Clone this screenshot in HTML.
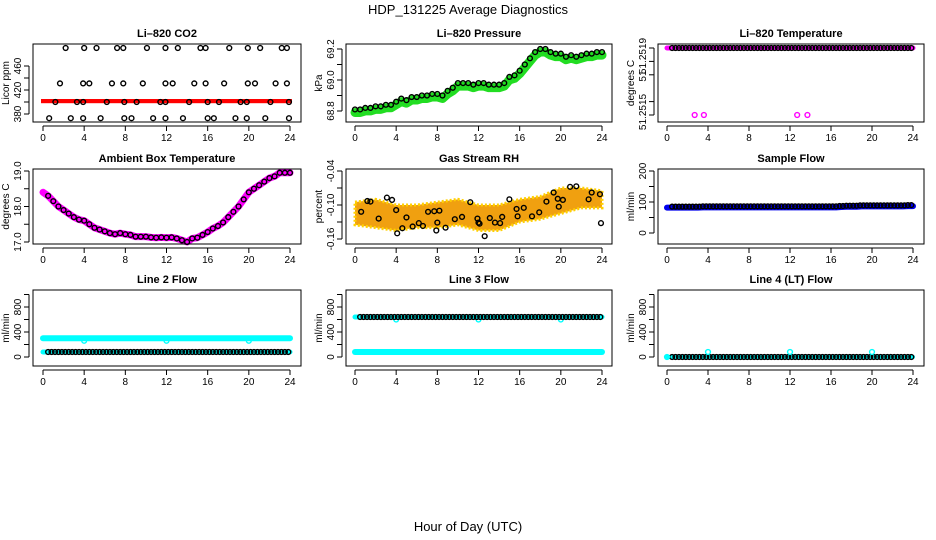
<!DOCTYPE html>
<html><head><meta charset="utf-8"><style>
body{margin:0;background:#fff}
svg{display:block;font-family:"Liberation Sans",Arial,sans-serif}
.tt{font-size:11px;font-weight:bold}
.tk{font-size:10px}
</style></head><body>
<svg id="c" width="936" height="540" viewBox="0 0 936 540" xmlns="http://www.w3.org/2000/svg">
<text x="468" y="14" text-anchor="middle" font-size="13">HDP_131225  Average Diagnostics</text>
<text x="468" y="531" text-anchor="middle" font-size="13">Hour of Day (UTC)</text>
</svg>
<script>
// ---- data ----
const xTicks=[0,4,8,12,16,20,24];
const co2Hours=[2.2,4.0,5.2,7.2,7.8,10.1,11.9,13.1,15.3,15.8,18.1,19.9,21.1,23.2,23.7, 1.65,3.9,4.5,6.7,7.8,9.7,11.9,12.6,14.7,15.8,17.6,19.9,20.6,22.6,23.7, 1.2,3.3,3.9,6.2,7.9,9.1,11.4,11.9,14.2,16,17.1,19.2,19.8,22.1,23.9, 0.6,2.7,3.9,5.6,7.9,8.6,10.7,11.9,13.6,16,16.6,18.7,19.8,21.6,23.9];
const co2Values=[490,490,490,490,490,490,490,490,490,490,490,490,490,490,490, 431,431,431,431,431,431,431,431,431,431,431,431,431,431,431, 400,400,400,400,400,400,400,400,400,400,400,400,400,400,400, 373,373,373,373,373,373,373,373,373,373,373,373,373,373,373];
const co2Band=[398,405];
const halfHours=[0,0.5,1,1.5,2,2.5,3,3.5,4,4.5,5,5.5,6,6.5,7,7.5,8,8.5,9,9.5,10,10.5,11,11.5,12,12.5,13,13.5,14,14.5,15,15.5,16,16.5,17,17.5,18,18.5,19,19.5,20,20.5,21,21.5,22,22.5,23,23.5,24];
const pressure=[68.81,68.81,68.82,68.82,68.83,68.83,68.84,68.84,68.86,68.88,68.87,68.89,68.89,68.90,68.90,68.91,68.91,68.90,68.93,68.95,68.98,68.98,68.98,68.97,68.98,68.98,68.97,68.97,68.97,68.98,69.02,69.03,69.06,69.10,69.14,69.18,69.20,69.20,69.18,69.17,69.17,69.15,69.16,69.15,69.16,69.17,69.17,69.18,69.18];
const ambient=[18.4,18.3,18.15,18.0,17.9,17.8,17.7,17.63,17.6,17.5,17.4,17.35,17.3,17.25,17.22,17.25,17.22,17.2,17.15,17.15,17.15,17.13,17.12,17.13,17.12,17.13,17.1,17.05,17.0,17.1,17.12,17.2,17.28,17.38,17.45,17.55,17.7,17.85,18.0,18.2,18.4,18.5,18.6,18.7,18.8,18.85,18.95,18.95,18.95];
const rhBandHours=[0,2,4,6,8,10,12,14,16,18,20,22,24];
const rhLow=[-0.135,-0.14,-0.145,-0.14,-0.14,-0.135,-0.145,-0.145,-0.13,-0.125,-0.115,-0.105,-0.105];
const rhHigh=[-0.095,-0.09,-0.1,-0.1,-0.095,-0.09,-0.1,-0.1,-0.09,-0.085,-0.07,-0.07,-0.075];
const rhHours=[0.6,1.2,1.5,2.3,3.1,3.6,4.0,4.1,4.6,5.0,5.6,6.2,6.6,7.1,7.7,7.9,8.0,8.2,8.8,9.7,10.4,11.2,11.9,12.0,12.1,12.6,13.1,13.6,14.1,14.3,15.0,15.7,15.8,16.4,17.2,17.9,18.6,19.3,19.7,19.8,20.2,20.9,21.5,22.7,23.0,23.8,23.9];
const rhValues=[-0.112,-0.093,-0.094,-0.124,-0.087,-0.091,-0.109,-0.15,-0.141,-0.122,-0.138,-0.132,-0.137,-0.112,-0.111,-0.145,-0.131,-0.11,-0.14,-0.125,-0.121,-0.095,-0.124,-0.131,-0.133,-0.155,-0.123,-0.131,-0.132,-0.121,-0.09,-0.107,-0.12,-0.105,-0.12,-0.113,-0.094,-0.078,-0.089,-0.103,-0.091,-0.068,-0.067,-0.09,-0.078,-0.081,-0.132];
const tempOutHours=[2.7,3.6,12.7,13.7];
const tempTop=51.2519, tempLow=51.2515;
const sampleFlow=[85,85,85,85,85,85,85,86,86,86,86,86,86,86,86,86,86,86,86,86,86,86,86,86,86,86,86,86,86,86,86,86,86,86,87,88,88,88,89,89,89,89,89,89,89,89,89,90,90];
const line2Upper=300, line2Lower=80, line2Dips=[4,12,20];
const line3Upper=640, line3Lower=80, line3Dips=[4,12,20];
const line4Base=0, line4Spikes=[4,12,20], line4SpikeVal=80;

// ---- layout ----
const S=document.getElementById('c'),NS='http://www.w3.org/2000/svg';
const cols=[{l:33,r:301,x0:43,x1:290},{l:346,r:612,x0:355,x1:602},{l:658,r:924,x0:667,x1:913}];
const rows=[{t:44,b:122},{t:169,b:244},{t:290,b:366}];
function mk(tag,a,p){const e=document.createElementNS(NS,tag);for(const k in a)e.setAttribute(k,a[k]);(p||S).appendChild(e);return e;}
function panel(ci,ri,title,ylab,yv0,yp0,yv1,yp1,ticks,labels,name,labelPos){
  const c=cols[ci],r=rows[ri];
  const g=mk('g',{});
  
  
  const X=h=>c.x0+(c.x1-c.x0)*h/24;
  const Y=v=>yp0+(v-yv0)*(yp1-yp0)/(yv1-yv0);
  const t=mk('text',{x:(c.l+c.r)/2,y:r.t-7,'text-anchor':'middle',class:'tt'},g);t.textContent=title;
  
  
  const plot=mk('g',{},g);
  
  
  const box=mk('rect',{x:c.l,y:r.t,width:c.r-c.l,height:r.b-r.t,fill:'none',stroke:'#000','stroke-width':1},g);
  
  
  const xa=mk('g',{},g);
  
  
  mk('line',{x1:X(0),x2:X(24),y1:r.b+4,y2:r.b+4,stroke:'#000'},xa);
  xTicks.forEach(h=>{mk('line',{x1:X(h),x2:X(h),y1:r.b+4,y2:r.b+9,stroke:'#000'},xa);
    const l=mk('text',{x:X(h),y:r.b+19,'text-anchor':'middle',class:'tk'},xa);l.textContent=h;});
  const ya=mk('g',{},g);
  
  
  mk('line',{x1:c.l-4,x2:c.l-4,y1:Y(ticks[0]),y2:Y(ticks[ticks.length-1]),stroke:'#000'},ya);
  ticks.forEach((v,i)=>{mk('line',{x1:c.l-9,x2:c.l-4,y1:Y(v),y2:Y(v),stroke:'#000'},ya);
    if(labels[i]){const y=labelPos?labelPos[i]:Y(v);const l=mk('text',{x:c.l-12,y:y,'text-anchor':'middle',class:'tk',transform:`rotate(-90 ${c.l-12} ${y})`},ya);l.textContent=labels[i];}});
  const yl=mk('text',{x:c.l-24,y:(r.t+r.b)/2,'text-anchor':'middle',class:'tk',transform:`rotate(-90 ${c.l-24} ${(r.t+r.b)/2})`},g);yl.textContent=ylab;
  
  
  return {X,Y,plot,c,r};
}
function circ(p,x,y,col,nm,fill){const e=mk('circle',{cx:x,cy:y,r:2.4,fill:fill||'none',stroke:col,'stroke-width':1.4},p);
  
  return e;}
function band(p,xs,ys,col,w,nm){const e=mk('polyline',{points:xs.map((x,i)=>x+','+ys[i]).join(' '),fill:'none',stroke:col,'stroke-width':w,'stroke-linejoin':'round','stroke-linecap':'round'},p);
  
  return e;}
const thirds=[];for(let h=0.5;h<=23.95;h+=1/3)thirds.push(h);

// CO2
let P=panel(0,0,'Li–820 CO2','Licor ppm',380,114,460,66,[380,400,420,440,460],['380','','420','','460'],'co2');
{const e=mk('rect',{x:P.X(0)-2,y:P.Y(co2Band[1]),width:P.X(24)-P.X(0)+4,height:P.Y(co2Band[0])-P.Y(co2Band[1]),fill:'#ff0000'},P.plot);

}
co2Hours.forEach((h,i)=>circ(P.plot,P.X(h),P.Y(co2Values[i]),'#000','co2-point'));

// Pressure
P=panel(1,0,'Li–820 Pressure','kPa',68.8,111,69.2,49,[68.8,68.9,69.0,69.1,69.2],['68.8','','69.0','','69.2'],'pressure');
band(P.plot,halfHours.map(P.X),pressure.map(v=>P.Y(v)+3),'#22dd22',9,'pressure-green-band');
halfHours.forEach((h,i)=>circ(P.plot,P.X(h),P.Y(pressure[i]),'#000','pressure-point'));

// Temperature
P=panel(2,0,'Li–820 Temperature','degrees C',51.2515,115,51.2519,48,[51.2515,51.25158,51.25174,51.25182,51.2519],['51.2515','','51','','51.2519'],'li820-temp',[112,0,76,0,56]);
band(P.plot,[P.X(0),P.X(24)],[P.Y(tempTop),P.Y(tempTop)],'#ff00ff',5,'temp-magenta-band');
thirds.forEach(h=>circ(P.plot,P.X(h),P.Y(tempTop),'#000','temp-point'));
tempOutHours.forEach(h=>circ(P.plot,P.X(h),P.Y(tempLow),'#ff00ff','temp-outlier'));

// Ambient
P=panel(0,1,'Ambient Box Temperature','degrees C',17,242,19,171,[17,17.5,18,18.5,19],['17.0','','18.0','','19.0'],'ambient');
band(P.plot,halfHours.map(P.X),ambient.map(P.Y),'#ff00ff',7,'ambient-magenta-band');
halfHours.forEach((h,i)=>{if(i>0)circ(P.plot,P.X(h),P.Y(ambient[i]),'#000','ambient-point');});

// RH
P=panel(1,1,'Gas Stream RH','percent',-0.16,239,-0.04,171,[-0.04,-0.07,-0.10,-0.13,-0.16],['-0.04','','-0.10','','-0.16'],'rh');
{const pts=rhBandHours.map((h,i)=>P.X(h)+','+P.Y(rhHigh[i])).concat(rhBandHours.slice().reverse().map((h,j)=>{const i=rhBandHours.length-1-j;return P.X(h)+','+P.Y(rhLow[i]);}));
const e=mk('polygon',{points:pts.join(' '),fill:'#f0a010',stroke:'#ffd000','stroke-width':3,'stroke-dasharray':'2 2'},P.plot);

}
rhHours.forEach((h,i)=>circ(P.plot,P.X(h),P.Y(rhValues[i]),'#000','rh-point'));

// Sample flow
P=panel(2,1,'Sample Flow','ml/min',0,233,200,171,[0,50,100,150,200],['0','','100','','200'],'sample-flow');
band(P.plot,halfHours.map(P.X),sampleFlow.map(v=>P.Y(v)+1),'#0000ee',6,'sample-blue-band');
thirds.forEach(h=>circ(P.plot,P.X(h),P.Y(sampleFlow[Math.round(h*2)]),'#000','sample-point'));

const fT=[0,200,400,600,800,1000],fL=['0','','400','','800',''];
// Line 2
P=panel(0,2,'Line 2 Flow','ml/min',0,357,400,332,fT,fL,'line2');
band(P.plot,[P.X(0),P.X(24)],[P.Y(line2Upper),P.Y(line2Upper)],'#00ffff',6,'line2-upper-band');
band(P.plot,[P.X(0),P.X(24)],[P.Y(line2Lower),P.Y(line2Lower)],'#00ffff',5,'line2-lower-band');
line2Dips.forEach(h=>circ(P.plot,P.X(h),P.Y(line2Upper-40),'#00ffff','line2-dip'));
thirds.forEach(h=>circ(P.plot,P.X(h),P.Y(line2Lower),'#000','line2-point'));
// Line 3
P=panel(1,2,'Line 3 Flow','ml/min',0,357,400,332,fT,fL,'line3');
band(P.plot,[P.X(0),P.X(24)],[P.Y(line3Upper),P.Y(line3Upper)],'#00ffff',5,'line3-upper-band');
band(P.plot,[P.X(0),P.X(24)],[P.Y(line3Lower),P.Y(line3Lower)],'#00ffff',6,'line3-lower-band');
line3Dips.forEach(h=>circ(P.plot,P.X(h),P.Y(line3Upper-40),'#00ffff','line3-dip'));
thirds.forEach(h=>circ(P.plot,P.X(h),P.Y(line3Upper),'#000','line3-point'));
// Line 4
P=panel(2,2,'Line 4 (LT) Flow','ml/min',0,357,400,332,fT,fL,'line4');
band(P.plot,[P.X(0),P.X(24)],[P.Y(line4Base),P.Y(line4Base)],'#00ffff',4,'line4-band');
thirds.forEach(h=>circ(P.plot,P.X(h),P.Y(line4Base),'#000','line4-point'));
circ(P.plot,P.X(0),P.Y(line4Base),'#00ffff','line4-start');
line4Spikes.forEach(h=>circ(P.plot,P.X(h),P.Y(line4SpikeVal),'#00ffff','line4-spike'));
</script>
</body></html>
